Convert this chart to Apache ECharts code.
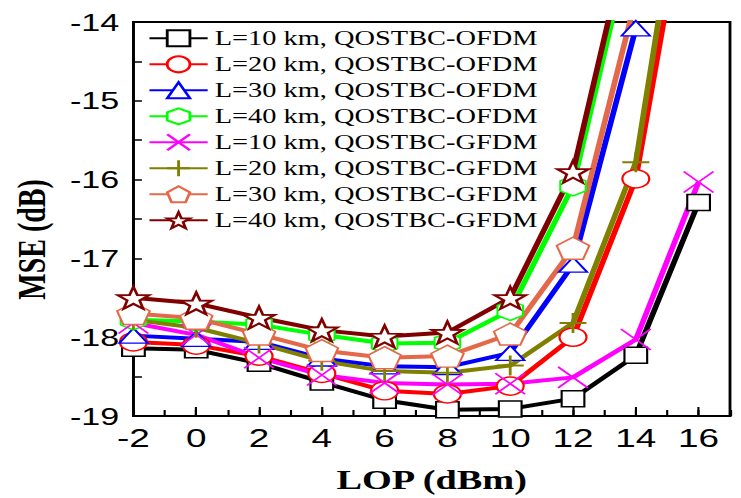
<!DOCTYPE html>
<html>
<head>
<meta charset="utf-8">
<script src="https://cdn.jsdelivr.net/npm/echarts@6/dist/echarts.min.js"></script>
<style>
html,body{margin:0;padding:0;background:#fff;overflow:hidden;width:741px;height:498px}
#wrap{width:741px;height:498px;overflow:hidden;position:relative}
#chart{width:522px;height:498px;transform:scaleX(1.41954);transform-origin:0 0}
</style>
</head>
<body>
<div id="wrap"><div id="chart"></div></div>
<script>
// LOP (dBm) values on the x axis
const lop = [-2, 0, 2, 4, 6, 8, 10, 12, 14, 16];

const seriesNames = [
  'L=10 km, QOSTBC-OFDM',
  'L=20 km, QOSTBC-OFDM',
  'L=30 km, QOSTBC-OFDM',
  'L=40 km, QOSTBC-OFDM',
  'L=10 km, QOSTBC-GFDM',
  'L=20 km, QOSTBC-GFDM',
  'L=30 km, QOSTBC-GFDM',
  'L=40 km, QOSTBC-GFDM'
];

// MSE (dB) per series
const mseL10OFDM = [-18.14, -18.16, -18.33, -18.57, -18.80, -18.92, -18.91, -18.78, -18.23, -16.29];
const mseL20OFDM = [-18.06, -18.10, -18.24, -18.46, -18.68, -18.72, -18.62, -18.00, -15.99, -11.50];
const mseL30OFDM = [-17.98, -18.02, -18.06, -18.27, -18.37, -18.38, -18.20, -17.08, -14.08, null];
const mseL40OFDM = [-17.78, -17.80, -17.84, -17.97, -18.08, -18.07, -17.66, -16.08, -12.70, null];
const mseL10GFDM = [-17.82, -17.97, -18.26, -18.48, -18.58, -18.60, -18.59, -18.51, -18.03, -16.03];
const mseL20GFDM = [-17.78, -17.88, -18.08, -18.30, -18.43, -18.45, -18.36, -17.82, -15.78, -10.80];
const mseL30GFDM = [-17.70, -17.76, -17.96, -18.17, -18.26, -18.24, -17.96, -16.87, -13.70, null];
const mseL40GFDM = [-17.50, -17.57, -17.75, -17.91, -17.99, -17.94, -17.50, -15.90, -12.50, null];

const seriesValues = [mseL10OFDM, mseL20OFDM, mseL30OFDM, mseL40OFDM,
                      mseL10GFDM, mseL20GFDM, mseL30GFDM, mseL40GFDM];

const colors = ['#000000', '#ff0000', '#0000ff', '#00ff00', '#ff00ff', '#808000', '#e4684a', '#800000'];

const hexPath = 'path://M0,-10L8.66,-5L8.66,5L0,10L-8.66,5L-8.66,-5Z';
const pentPath = 'path://M0,-10L9.51,-3.09L5.88,8.09L-5.88,8.09L-9.51,-3.09Z';
const starPath = 'path://M0,-10L2.351,-3.236L9.511,-3.09L3.804,1.236L5.878,8.09L0,4L-5.878,8.09L-3.804,1.236L-9.511,-3.09L-2.351,-3.236Z';
const xPath = 'path://M-10,-10L10,10M-10,10L10,-10';
const plusPath = 'path://M-10,0L10,0M0,-10L0,10';

const symbols = ['rect', 'circle', 'triangle', hexPath, xPath, plusPath, pentPath, starPath];
const symbolSizes = [[16, 16], [19, 18], [20, 15], [18, 20], [21, 21], [19, 20], [23, 22], [22, 22]];
const borderWidths = [1.5, 1.5, 1.5, 1.5, 1.5, 2, 1.5, 2];

const chart = echarts.init(document.getElementById('chart'), null, {renderer: 'svg'});

const series = seriesNames.map((name, i) => ({
  name: name,
  type: 'line',
  data: lop.map((x, j) => [x, seriesValues[i][j]]),
  symbol: symbols[i],
  symbolSize: symbolSizes[i],
  clip: true,
  lineStyle: {color: colors[i], width: 4},
  itemStyle: {color: '#ffffff', borderColor: colors[i], borderWidth: borderWidths[i]},
  emphasis: {disabled: true},
  animation: false
}));

const option = {
  animation: false,
  grid: {left: 93.7, right: 7.75, top: 22, bottom: 79, show: true, borderColor: '#000', borderWidth: 2, backgroundColor: 'transparent'},
  legend: {
    orient: 'vertical', left: 104.3, top: 28.3, padding: 0,
    itemWidth: 41, itemHeight: 20, itemGap: 6,
    selectedMode: false,
    textStyle: {fontFamily: 'Liberation Serif', fontSize: 20, color: '#000'},
    data: seriesNames
  },
  xAxis: [{
    type: 'value', min: -2, max: 17, interval: 2,
    axisLine: {onZero: false, lineStyle: {color: '#000', width: 2}},
    axisTick: {inside: true, length: 9, lineStyle: {color: '#000', width: 1.5}},
    axisLabel: {color: '#000', fontFamily: 'Liberation Sans', fontSize: 26, margin: 9, showMaxLabel: false},
    splitLine: {show: false},
    name: 'LOP (dBm)', nameLocation: 'middle', nameGap: 50,
    nameTextStyle: {fontFamily: 'Liberation Serif', fontWeight: 'bold', fontSize: 27, color: '#000'}
  }, {
    type: 'value', min: -2, max: 17, interval: 1, position: 'bottom',
    axisLine: {show: false},
    axisTick: {inside: true, length: 6, lineStyle: {color: '#000', width: 1.5}},
    axisLabel: {show: false},
    splitLine: {show: false}
  }],
  yAxis: {
    type: 'value', min: -19, max: -14, interval: 1,
    axisLine: {onZero: false, lineStyle: {color: '#000', width: 2}},
    axisTick: {inside: true, length: 6, lineStyle: {color: '#000', width: 1.5}},
    minorTick: {show: true, splitNumber: 2, length: 6, lineStyle: {color: '#000', width: 1.5}},
    axisLabel: {color: '#000', fontFamily: 'Liberation Sans', fontSize: 24, margin: 10},
    splitLine: {show: false},
    minorSplitLine: {show: false},
    name: 'MSE (dB)', nameLocation: 'middle', nameRotate: 90, nameGap: 58,
    nameTextStyle: {fontFamily: 'Liberation Serif', fontWeight: 'bold', fontSize: 28, color: '#000', padding: [0, 41, 0, 0]}
  },
  series: series
};

chart.setOption(option);
</script>
</body>
</html>
